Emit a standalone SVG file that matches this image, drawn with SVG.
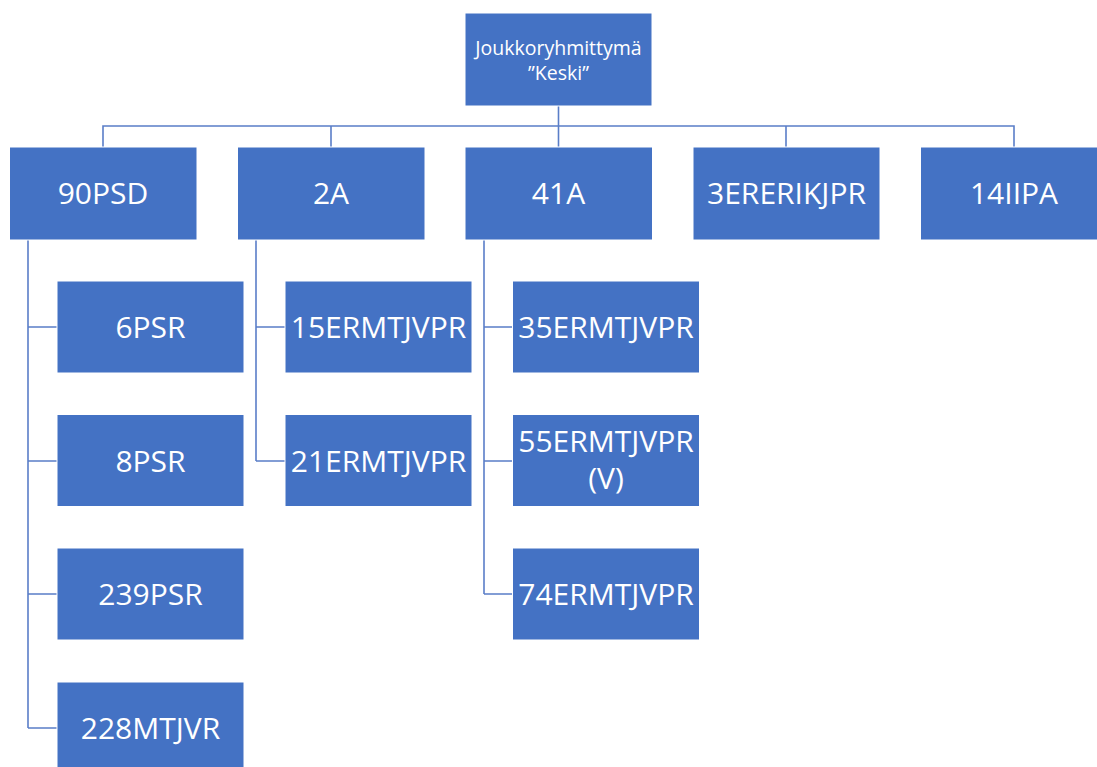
<svg xmlns="http://www.w3.org/2000/svg" width="1097" height="767" viewBox="0 0 1097 767">
<style>
.box{fill:#4472C4;stroke:#ffffff;stroke-width:1}
.t{fill:#ffffff;font-family:"Open Sans","Noto Sans","Liberation Sans",sans-serif;font-size:30px;text-anchor:middle}
.ts{fill:#ffffff;font-family:"Open Sans","Noto Sans","Liberation Sans",sans-serif;font-size:19.5px;text-anchor:middle}
.c{fill:none;stroke:#5A7EC8;stroke-width:1.6}
</style>
<rect width="1097" height="767" fill="#ffffff"/>
<g id="connectors">
<path class="c" d="M558.5,106V147M103,147V126H1014V147M331,126V147M786,126V147"/>
<path class="c" d="M28,240V728M28,327H57M28,461H57M28,594H57M28,728H57"/>
<path class="c" d="M256,240V461M256,327H285M256,461H285"/>
<path class="c" d="M484,240V594M484,327H513M484,461H513M484,594H513"/>
</g>
<g id="n-keski"><rect class="box" x="465" y="13" width="187" height="93"/><text class="ts" x="558.5" y="55">Joukkoryhmittymä</text><text class="ts" x="558.5" y="80">”Keski”</text></g>
<g id="n-90psd"><rect class="box" x="9.5" y="147" width="187.5" height="93"/><text class="t" x="103" y="204">90PSD</text></g>
<g id="n-2a"><rect class="box" x="237.5" y="147" width="187.5" height="93"/><text class="t" x="331" y="204">2A</text></g>
<g id="n-41a"><rect class="box" x="465" y="147" width="187.5" height="93"/><text class="t" x="558.5" y="204">41A</text></g>
<g id="n-3ererikjpr"><rect class="box" x="693" y="147" width="187" height="93"/><text class="t" x="786.5" y="204">3ERERIKJPR</text></g>
<g id="n-14iipa"><rect class="box" x="920.5" y="147" width="187.5" height="93"/><text class="t" x="1014" y="204">14IIPA</text></g>
<g id="n-6psr"><rect class="box" x="57" y="281" width="187" height="92"/><text class="t" x="150.5" y="338">6PSR</text></g>
<g id="n-8psr"><rect class="box" x="57" y="414.5" width="187" height="92"/><text class="t" x="150.5" y="471.5">8PSR</text></g>
<g id="n-239psr"><rect class="box" x="57" y="548" width="187" height="92"/><text class="t" x="150.5" y="605">239PSR</text></g>
<g id="n-228mtjvr"><rect class="box" x="57" y="682" width="187" height="92"/><text class="t" x="150.5" y="739">228MTJVR</text></g>
<g id="n-15ermtjvpr"><rect class="box" x="285" y="281" width="187" height="92"/><text class="t" x="378.5" y="338">15ERMTJVPR</text></g>
<g id="n-21ermtjvpr"><rect class="box" x="285" y="414.5" width="187" height="92"/><text class="t" x="378.5" y="471.5">21ERMTJVPR</text></g>
<g id="n-35ermtjvpr"><rect class="box" x="512.5" y="281" width="187" height="92"/><text class="t" x="606" y="338">35ERMTJVPR</text></g>
<g id="n-55ermtjvpr"><rect class="box" x="512.5" y="414.5" width="187" height="92"/><text class="t" x="606" y="452">55ERMTJVPR</text><text class="t" x="606" y="489">(V)</text></g>
<g id="n-74ermtjvpr"><rect class="box" x="512.5" y="548" width="187" height="92"/><text class="t" x="606" y="605">74ERMTJVPR</text></g>
</svg>
